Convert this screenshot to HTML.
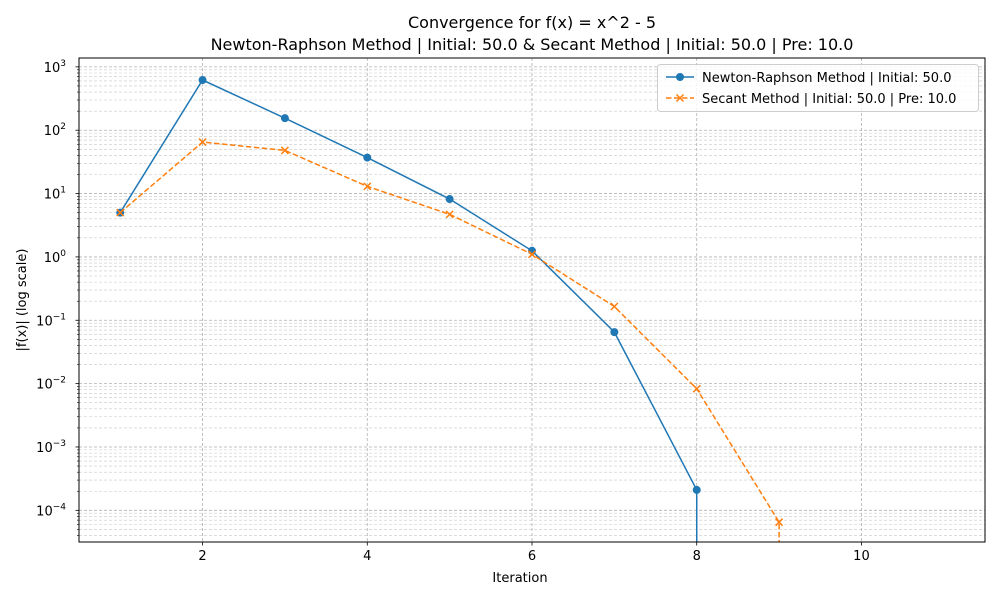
<!DOCTYPE html>
<html><head><meta charset="utf-8"><style>
html,body{margin:0;padding:0;background:#fff;overflow:hidden;width:1000px;height:600px}
svg{display:block}
svg text{font-family:"DejaVu Sans","Liberation Sans",sans-serif;fill:#000}
</style></head><body>
<svg id="chart" width="1000" height="600" xmlns="http://www.w3.org/2000/svg">
<defs><clipPath id="clip"><rect x="79" y="58" width="906" height="484"/></clipPath></defs>
<rect width="1000" height="600" fill="#fff"/>
<text x="532" y="28" font-size="16" text-anchor="middle">Convergence for f(x) = x^2 - 5</text>
<text x="532" y="50" font-size="16" text-anchor="middle">Newton-Raphson Method | Initial: 50.0 &amp; Secant Method | Initial: 50.0 | Pre: 10.0</text>
<g id="grid"></g>
<g id="series" clip-path="url(#clip)"></g>
<rect x="79" y="58" width="906" height="484" fill="none" stroke="#000" stroke-width="1"/>
<g id="axes"></g>
<text x="520" y="582" font-size="13" text-anchor="middle">Iteration</text>
<text transform="translate(26,300) rotate(-90)" font-size="13" text-anchor="middle">|f(x)| (log scale)</text>
<g>
<rect x="657.5" y="64.5" width="321" height="47" rx="3" fill="#fff" fill-opacity="0.8" stroke="#ccc"/>
<g>
<line x1="666" y1="77" x2="694" y2="77" stroke="#1f77b4" stroke-width="1.5"/>
<circle cx="680" cy="77" r="4" fill="#1f77b4"/>
<text x="702" y="82" font-size="13">Newton-Raphson Method | Initial: 50.0</text></g>
<g>
<line x1="666" y1="98" x2="694" y2="98" stroke="#ff7f0e" stroke-width="1.5" stroke-dasharray="5.5,2.5"/>
<path d="M676.5 94.5l7 7M683.5 94.5l-7 7" stroke="#ff7f0e" stroke-width="1.5"/>
<text x="702" y="103" font-size="13">Secant Method | Initial: 50.0 | Pre: 10.0</text></g>
</g>
</svg>
<script>
const newtonIter = [1,2,3,4,5,6,7,8,8];
const newtonVals = [5,620,155,37,8.2,1.25,0.065,0.00021,1e-20];
const secantIter = [1,2,3,4,5,6,7,8,9,9];
const secantVals = [5,65,48,13,4.7,1.1,0.165,0.0083,0.000065,1e-20];
const xTicks = [2,4,6,8,10];
const yExps = [-4,-3,-2,-1,0,1,2,3];

const NS="http://www.w3.org/2000/svg";
const L=79,R=985,T=58,B=542;
const xMin=0.5,xMax=11.5,yMinE=-4.5,yMaxE=3.14;
const X=v=>L+(v-xMin)/(xMax-xMin)*(R-L);
const Y=v=>{let e=Math.log10(Math.max(v,1e-30));let y=T+(yMaxE-e)/(yMaxE-yMinE)*(B-T);return Math.min(y,B+5);};
function mk(tag,attrs,parent){const e=document.createElementNS(NS,tag);for(const k in attrs)e.setAttribute(k,attrs[k]);parent.appendChild(e);return e;}
const grid=document.getElementById('grid'),axes=document.getElementById('axes'),series=document.getElementById('series');
for(let e=-5;e<=3;e++){for(let m=1;m<=9;m++){const v=m*Math.pow(10,e);const y=Y(v);if(y<T||y>B)continue;
 const ln=mk('line',{x1:L,x2:R,y1:y,y2:y,stroke:m===1?'#b0b0b0':'#c8c8c8','stroke-width':m===1?0.8:0.6,'stroke-dasharray':'3,2'},grid);
 
 
 const tk=mk('line',{x1:L,x2:L-(m===1?3.5:2),y1:y,y2:y,stroke:'#000','stroke-width':m===1?0.8:0.6},axes);
 
 }}
yExps.forEach(e=>{const y=Y(Math.pow(10,e));
 const t=mk('text',{x:66,y:y+5,'font-size':13,'text-anchor':'end'},axes);
 
 
 const a=document.createElementNS(NS,'tspan');a.textContent='10';t.appendChild(a);
 const s=document.createElementNS(NS,'tspan');s.setAttribute('dy','-6');s.setAttribute('font-size','9');s.textContent=e<0?'\u2212'+(-e):String(e);t.appendChild(s);});
xTicks.forEach(v=>{const x=X(v);
 const g=mk('line',{x1:x,x2:x,y1:T,y2:B,stroke:'#b0b0b0','stroke-width':0.8,'stroke-dasharray':'3,2'},grid);
 
 
 const tk=mk('line',{x1:x,x2:x,y1:B,y2:B+3.5,stroke:'#000','stroke-width':0.8},axes);
 
 
 const t=mk('text',{x:x,y:B+18,'font-size':13,'text-anchor':'middle'},axes);t.textContent=v;
 
 });
function draw(it,vals,color,dash,marker,name){
 const p=mk('polyline',{points:it.map((x,i)=>X(x)+','+Y(vals[i])).join(' '),fill:'none',stroke:color,'stroke-width':1.5},series);
 if(dash)p.setAttribute('stroke-dasharray',dash);
 
 
 it.forEach((x,i)=>{const cx=X(x),cy=Y(vals[i]);if(cy>B)return;let m;
  if(marker==='o')m=mk('circle',{cx:cx,cy:cy,r:4,fill:color},series);
  else m=mk('path',{d:`M${cx-3.5} ${cy-3.5}l7 7M${cx+3.5} ${cy-3.5}l-7 7`,stroke:color,'stroke-width':1.5},series);
  
  });}
draw(newtonIter,newtonVals,'#1f77b4',null,'o','newton');
draw(secantIter,secantVals,'#ff7f0e','5.5,2.5','x','secant');
</script>
</body></html>
